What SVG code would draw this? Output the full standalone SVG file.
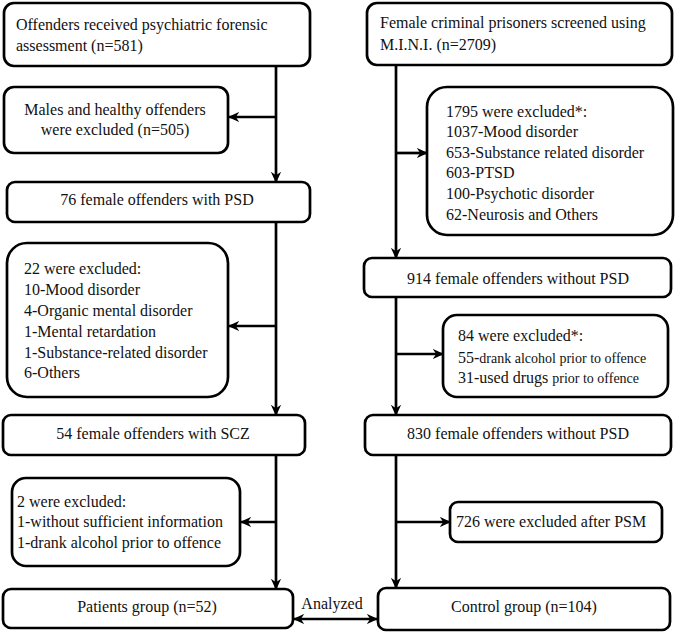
<svg xmlns="http://www.w3.org/2000/svg" width="675" height="633" viewBox="0 0 675 633" font-family="Liberation Serif, Times New Roman, serif">
<style>
.b{fill:#fff;stroke:#000;stroke-width:2.7}
text{font-size:16px;fill:#111}
.c{text-anchor:middle}
.s{font-size:14px}
.l{fill:none;stroke:#000;stroke-width:2.7}
</style>
<defs>
<marker id="a" viewBox="0 0 10 10" refX="9" refY="5" markerWidth="4.2" markerHeight="4.2" orient="auto-start-reverse" markerUnits="strokeWidth">
<path d="M0,0.5 L10,5 L0,9.5 L3,5 Z" fill="#000"/>
</marker>
</defs>
<rect width="675" height="633" fill="#fff"/>
<g id="connectors">
<path class="l" d="M276,66 V182" marker-end="url(#a)"/>
<path class="l" d="M276,117 H229" marker-end="url(#a)"/>
<path class="l" d="M276,222 V415" marker-end="url(#a)"/>
<path class="l" d="M276,326 H229" marker-end="url(#a)"/>
<path class="l" d="M276,455 V589" marker-end="url(#a)"/>
<path class="l" d="M276,522 H241" marker-end="url(#a)"/>
<path class="l" d="M396,65 V258" marker-end="url(#a)"/>
<path class="l" d="M396,153 H427" marker-end="url(#a)"/>
<path class="l" d="M396,297 V415" marker-end="url(#a)"/>
<path class="l" d="M396,354 H443" marker-end="url(#a)"/>
<path class="l" d="M396,455 V588" marker-end="url(#a)"/>
<path class="l" d="M396,522 H450" marker-end="url(#a)"/>
<path class="l" d="M294,619 H377" marker-start="url(#a)" marker-end="url(#a)"/>
<text x="332" y="609" class="c">Analyzed</text>
</g>
<g id="n1">
<rect class="b" x="4" y="3" width="306" height="63" rx="10"/>
<text x="16" y="30">Offenders received psychiatric forensic</text>
<text x="16" y="51">assessment (n=581)</text>
</g>
<g id="n2">
<rect class="b" x="4" y="87" width="224" height="66" rx="10"/>
<text x="115" y="115" class="c">Males and healthy offenders</text>
<text x="115" y="135" class="c">were excluded (n=505)</text>
</g>
<g id="n3">
<rect class="b" x="7" y="182" width="303" height="40" rx="8"/>
<text x="157" y="205" class="c">76 female offenders with PSD</text>
</g>
<g id="n4">
<rect class="b" x="7" y="243" width="221" height="154" rx="20"/>
<text x="24" y="274">22 were excluded:</text>
<text x="24" y="295">10-Mood disorder</text>
<text x="24" y="316">4-Organic mental disorder</text>
<text x="24" y="337">1-Mental retardation</text>
<text x="24" y="358">1-Substance-related disorder</text>
<text x="24" y="378">6-Others</text>
</g>
<g id="n5">
<rect class="b" x="3" y="415" width="302" height="40" rx="8"/>
<text x="153" y="439" class="c">54 female offenders with SCZ</text>
</g>
<g id="n6">
<rect class="b" x="12" y="478" width="228" height="88" rx="14"/>
<text x="17" y="507">2 were excluded:</text>
<text x="17" y="527">1-without sufficient information</text>
<text x="17" y="548">1-drank alcohol prior to offence</text>
</g>
<g id="n7">
<rect class="b" x="3" y="589" width="290" height="39" rx="8"/>
<text x="147" y="612" class="c">Patients group (n=52)</text>
</g>
<g id="r1">
<rect class="b" x="367" y="3" width="305" height="62" rx="10"/>
<text x="380" y="28">Female criminal prisoners screened using</text>
<text x="380" y="50">M.I.N.I. (n=2709)</text>
</g>
<g id="r2">
<rect class="b" x="427" y="87" width="246" height="148" rx="20"/>
<text x="446" y="117">1795 were excluded*:</text>
<text x="446" y="137">1037-Mood disorder</text>
<text x="446" y="158">653-Substance related disorder</text>
<text x="446" y="178">603-PTSD</text>
<text x="446" y="199">100-Psychotic disorder</text>
<text x="446" y="220">62-Neurosis and Others</text>
</g>
<g id="r3">
<rect class="b" x="364" y="258" width="307" height="39" rx="8"/>
<text x="518" y="284" class="c">914 female offenders without PSD</text>
</g>
<g id="r4">
<rect class="b" x="443" y="315" width="225" height="82" rx="14"/>
<text x="458" y="341">84 were excluded*:</text>
<text x="458" y="363">55-<tspan class="s">drank alcohol prior to offence</tspan></text>
<text x="458" y="383">31-used drugs <tspan class="s">prior to offence</tspan></text>
</g>
<g id="r5">
<rect class="b" x="365" y="415" width="306" height="40" rx="8"/>
<text x="518" y="439" class="c">830 female offenders without PSD</text>
</g>
<g id="r6">
<rect class="b" x="450" y="502" width="212" height="40" rx="8"/>
<text x="456" y="527">726 were excluded after PSM</text>
</g>
<g id="r7">
<rect class="b" x="378" y="588" width="292" height="42" rx="8"/>
<text x="524" y="612" class="c">Control group (n=104)</text>
</g>
</svg>
